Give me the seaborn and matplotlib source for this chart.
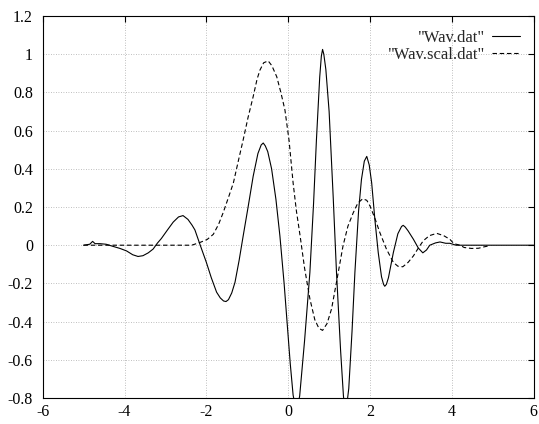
import matplotlib
matplotlib.use("Agg")
import matplotlib.pyplot as plt
import seaborn as sns
import pandas as pd

# Wav.dat - вейвлет
wav_x = [-5.0, -4.85, -4.78, -4.72, -4.6, -4.45, -4.3, -4.11, -3.95, -3.8, -3.67, -3.55, -3.42, -3.30,
         -3.20, -3.10, -2.95, -2.81, -2.68, -2.57, -2.45, -2.35, -2.28, -2.15, -2.0, -1.88, -1.75,
         -1.66, -1.58, -1.52, -1.46, -1.38, -1.30, -1.20, -1.10, -0.98, -0.856, -0.74, -0.66, -0.61, -0.56, -0.5, -0.406,
         -0.30, -0.203, -0.10, -0.04, 0.05, 0.12, 0.20, 0.28, 0.40, 0.53, 0.62, 0.69, 0.77, 0.81, 0.84, 0.87,
         0.92, 1.0, 1.10, 1.18, 1.28, 1.35, 1.39, 1.43, 1.48, 1.56, 1.63, 1.72, 1.79, 1.86, 1.92, 1.98, 2.04,
         2.12, 2.2, 2.28, 2.33, 2.36, 2.40, 2.45, 2.57, 2.68, 2.77, 2.81, 2.86, 2.93, 3.06, 3.18, 3.29, 3.38, 3.46, 3.6,
         3.71, 3.85, 3.95, 4.1, 6.0]
wav_y = [0.0, 0.005, 0.02, 0.008, 0.008, 0.005, -0.005, -0.017, -0.03, -0.05, -0.059, -0.055, -0.04, -0.02,
         0.01, 0.035, 0.08, 0.121, 0.148, 0.155, 0.135, 0.105, 0.08, 0.0, -0.09, -0.17, -0.246,
         -0.276, -0.292, -0.295, -0.285, -0.25, -0.194, -0.08, 0.049, 0.2, 0.361, 0.48, 0.525, 0.535, 0.52, 0.49, 0.40,
         0.24, 0.049, -0.2, -0.368, -0.62, -0.785, -0.87, -0.79, -0.50, -0.142, 0.22, 0.552, 0.88, 0.99, 1.025, 1.0,
         0.92, 0.70, 0.25, -0.142, -0.55, -0.79, -0.86, -0.84, -0.75, -0.45, -0.142, 0.18, 0.344, 0.44, 0.465, 0.42, 0.326,
         0.13, -0.038, -0.165, -0.205, -0.215, -0.205, -0.17, -0.038, 0.06, 0.098, 0.104, 0.095, 0.075, 0.031, -0.015, -0.04, -0.025, 0.0, 0.012,
         0.017, 0.01, 0.01, 0.0, 0.0]

# Wav.scal.dat - масштабирующая функция
scal_x = [-5.0, -2.36, -2.16, -1.98, -1.83, -1.70, -1.59, -1.46, -1.34, -1.22, -1.10, -0.98, -0.856,
          -0.76, -0.69, -0.60, -0.49, -0.40, -0.28, -0.18, -0.08, 0.02, 0.12, 0.20, 0.29, 0.40, 0.53,
          0.65, 0.75, 0.84, 0.95, 1.06, 1.20, 1.34, 1.46, 1.59, 1.70, 1.82, 1.92, 2.0, 2.12, 2.24,
          2.40, 2.57, 2.68, 2.80, 2.93, 3.06, 3.18, 3.30, 3.45, 3.63, 3.80, 3.95, 4.05, 4.2, 4.3,
          4.48, 4.65, 4.8, 4.9]
scal_y = [0.0, 0.0, 0.014, 0.03, 0.057, 0.11, 0.170, 0.25, 0.326, 0.44, 0.552, 0.67, 0.778,
          0.87, 0.917, 0.955, 0.965, 0.94, 0.882, 0.80, 0.708, 0.55, 0.326, 0.18, 0.05, -0.12, -0.281,
          -0.39, -0.435, -0.446, -0.41, -0.333, -0.17, -0.003, 0.10, 0.170, 0.22, 0.243, 0.235, 0.205, 0.14, 0.066,
          -0.02, -0.09, -0.11, -0.113, -0.09, -0.056, -0.015, 0.023, 0.05, 0.062, 0.05, 0.031, 0.008, 0.0, -0.012,
          -0.017, -0.016, -0.008, -0.004]

x_ticks = [-6, -4, -2, 0, 2, 4, 6]
y_ticks = [-0.8, -0.6, -0.4, -0.2, 0, 0.2, 0.4, 0.6, 0.8, 1, 1.2]

wav = pd.DataFrame({"x": wav_x, "y": wav_y})
scal = pd.DataFrame({"x": scal_x, "y": scal_y})

sns.set_style("white")
plt.rcParams['font.family'] = ['Liberation Serif', 'DejaVu Serif']

fig = plt.figure(figsize=(5.39, 4.24), dpi=100)
ax = fig.add_axes([0.0792, 0.0613, 0.911, 0.901])

sns.lineplot(data=wav, x="x", y="y", ax=ax, color="black", linewidth=0.8,
             estimator=None, sort=False, label='"Wav.dat"')
sns.lineplot(data=scal, x="x", y="y", ax=ax, color="black", linewidth=0.8,
             estimator=None, sort=False, linestyle=(0, (4, 2.5)), label='"Wav.scal.dat"')

ax.set_xlim(-6, 6)
ax.set_ylim(-0.8, 1.2)
ax.set_xticks(x_ticks)
ax.set_yticks(y_ticks)
ax.set_xticklabels([str(t) for t in x_ticks])
ax.set_yticklabels(["%g" % t for t in y_ticks])
ax.set_xlabel("")
ax.set_ylabel("")

# сетка точками, как в gnuplot
ax.grid(True, linestyle=(0, (1, 2)), color="#aaaaaa", linewidth=0.6)
ax.set_axisbelow(True)
ax.tick_params(direction="in", length=4, width=0.8, top=True, right=True,
               labelsize=11.5, colors="black")
ax.tick_params(axis="y", pad=7)
ax.tick_params(axis="x", pad=4)
for s in ax.spines.values():
    s.set_color("black")
    s.set_linewidth(0.8)

ax.legend(loc="upper right", bbox_to_anchor=(0.973, 0.963), borderpad=0, borderaxespad=0,
          frameon=False, markerfirst=False, fontsize=12, handlelength=1.7,
          handletextpad=0.4, labelspacing=0.05)

fig.savefig("out.png", dpi=100)
